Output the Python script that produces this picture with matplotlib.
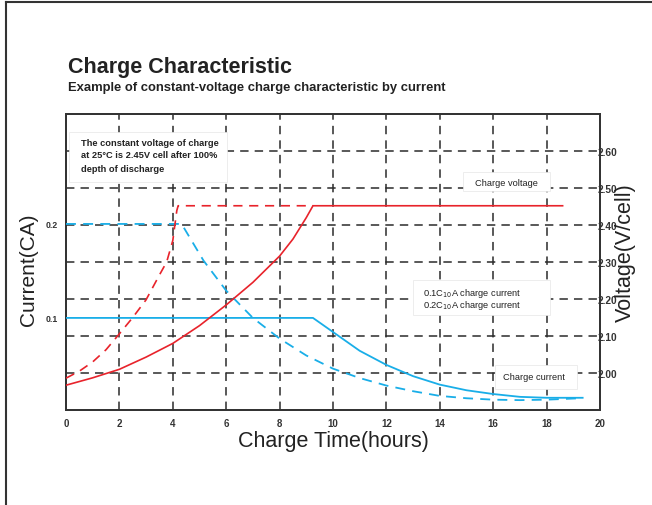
import matplotlib
matplotlib.use("Agg")
import matplotlib.pyplot as plt
from matplotlib.lines import Line2D
from matplotlib.patches import Rectangle

plt.rcParams["font.family"] = ["Liberation Sans", "DejaVu Sans"]

# voltage curves (hours, V/cell)
v01_hours = [0, 1, 2, 3, 4, 5, 6, 7, 8, 8.5, 9.0, 9.25, 18.6]
v01_volts = [1.967, 1.987, 2.010, 2.043, 2.080, 2.128, 2.184, 2.245, 2.316,
             2.362, 2.420, 2.452, 2.452]
v02_hours = [0, 0.5, 1, 1.5, 2, 2.5, 3, 3.5, 3.77, 4.0, 4.15, 4.2, 9.25]
v02_volts = [1.986, 2.005, 2.030, 2.063, 2.106, 2.150, 2.198, 2.265, 2.300,
             2.358, 2.439, 2.452, 2.452]

# current curves (hours, CA)
i01_hours = [0, 9.25, 10, 11, 12, 13, 14, 15, 16, 17, 18, 19.35]
i01_amps = [0.1, 0.1, 0.085, 0.065, 0.050, 0.038, 0.029, 0.023, 0.019,
            0.016, 0.015, 0.015]
i02_hours = [0, 4.33, 5.15, 6, 7, 8, 9, 10, 11, 12, 13, 14, 15, 16, 17, 18, 19.35]
i02_amps = [0.2, 0.2, 0.161, 0.129, 0.100, 0.078, 0.060, 0.046, 0.036, 0.028,
            0.022, 0.017, 0.0145, 0.013, 0.0125, 0.013, 0.0146]

x_ticks = [0, 2, 4, 6, 8, 10, 12, 14, 16, 18, 20]
grid_hours = [2, 4, 6, 8, 10, 12, 14, 16, 18]
current_ticks = [0.1, 0.2]
volt_ticks = [2.00, 2.10, 2.20, 2.30, 2.40, 2.50, 2.60]

RED = "#e8232b"
CYAN = "#19aee8"
GRID = "#2b2b2b"
DASH = (0, (5.5, 4))

W, H = 652, 506
L, R, T, B = 66, 600, 115, 411


def px(x, y):
    """pixel -> axes fraction"""
    return (x - L) / (R - L), (B - y) / (B - T)


fig = plt.figure(figsize=(W / 100, H / 100), dpi=100)
ax = fig.add_axes([L / W, (H - B) / H, (R - L) / W, (B - T) / H])
ax2 = ax.twinx()

ax.set_xlim(0, 20)
ax.set_ylim(0.002, 0.317)
ax2.set_ylim(1.9, 2.7)

# grid
for h in grid_hours:
    ax2.axvline(h, color=GRID, lw=1.1, ls=DASH, zorder=1)
for v in volt_ticks:
    ax2.axhline(v, color=GRID, lw=1.1, ls=DASH, zorder=1)

# label boxes
boxes = [(69, 133, 227, 183), (463, 173, 550, 192),
         (413, 281, 550, 316), (495, 366, 577, 390)]
for x0, y0, x1, y1 in boxes:
    ax0, ay0 = px(x0, y1)
    ax1, ay1 = px(x1, y0)
    ax2.add_patch(Rectangle((ax0, ay0), ax1 - ax0, ay1 - ay0,
                            transform=ax2.transAxes, facecolor="white",
                            edgecolor="#e6e6e6", lw=0.5, zorder=2))

# curves
ax2.plot(i02_hours, i02_amps, color=CYAN, lw=1.3, ls=DASH,
         transform=ax.transData, zorder=4)
ax2.plot(i01_hours, i01_amps, color=CYAN, lw=1.3,
         transform=ax.transData, zorder=4)
ax2.plot(v02_hours, v02_volts, color=RED, lw=1.2, ls=DASH, zorder=4)
ax2.plot(v01_hours, v01_volts, color=RED, lw=1.2, zorder=5)
ax2.set_xlim(0, 20)
ax2.set_ylim(1.9, 2.7)

# texts
notes = [
    (81, 143, "The constant voltage of charge", "bold"),
    (81, 156, "at 25\u00b0C is 2.45V cell after 100%", "bold"),
    (81, 169, "depth of discharge", "bold"),
    (475, 183, "Charge voltage", "normal"),
    (423, 293, "0.1C$_{10}$A charge current", "normal"),
    (423, 305, "0.2C$_{10}$A charge current", "normal"),
    (503, 377, "Charge current", "normal"),
]
for x, y, s, w in notes:
    fx, fy = px(x, y)
    ax2.text(fx, fy, s, transform=ax2.transAxes, fontsize=6.7, fontweight=w,
             color="#222222", ha="left", va="center", zorder=3)

# axes styling
for a in (ax, ax2):
    for sp in a.spines.values():
        sp.set_color("#333333")
        sp.set_linewidth(1.3)

ax.set_xticks(x_ticks)
ax.set_xticklabels([str(t) for t in x_ticks], fontsize=7, fontweight="bold",
                   color="#333333")
ax.set_yticks(current_ticks)
ax.set_yticklabels(["0.1", "0.2"], fontsize=6.3, fontweight="bold", color="#333333")
ax.tick_params(axis="both", length=0)
ax.tick_params(axis="x", pad=6)
ax.tick_params(axis="y", pad=6)

ax2.set_yticks(volt_ticks)
ax2.set_yticklabels([f"{v:.2f}" for v in volt_ticks], fontsize=7.3,
                    fontweight="bold", color="#333333")
ax2.tick_params(axis="y", length=0, pad=-2)

ax.set_xlabel("Charge Time(hours)", fontsize=15.5, color="#222222")
ax.xaxis.set_label_coords(0.5, px(0, 431)[1])
ax.set_ylabel("Current(CA)", fontsize=15, color="#222222")
ax.yaxis.set_label_coords(px(38, 0)[0], px(0, 270)[1])
ax2.set_ylabel("Voltage(V/cell)", fontsize=15.5, color="#222222")
ax2.yaxis.set_label_coords(px(615, 0)[0], px(0, 253)[1])

# title block
fig.text(68 / W, 1 - 67 / H, "Charge Characteristic", fontsize=15.5,
         fontweight="bold", color="#222222", ha="left", va="center")
fig.text(68 / W, 1 - 88 / H,
         "Example of constant-voltage charge characteristic by current",
         fontsize=9.4, fontweight="bold", color="#222222", ha="left", va="center")

# page frame
fig.add_artist(Line2D([6 / W, 6 / W], [0, 1 - 3 / H], transform=fig.transFigure,
                      color="#333333", lw=1.5))
fig.add_artist(Line2D([6 / W, 1], [1 - 3 / H, 1 - 3 / H], transform=fig.transFigure,
                      color="#333333", lw=1.5))

fig.savefig("out.png", dpi=100)
